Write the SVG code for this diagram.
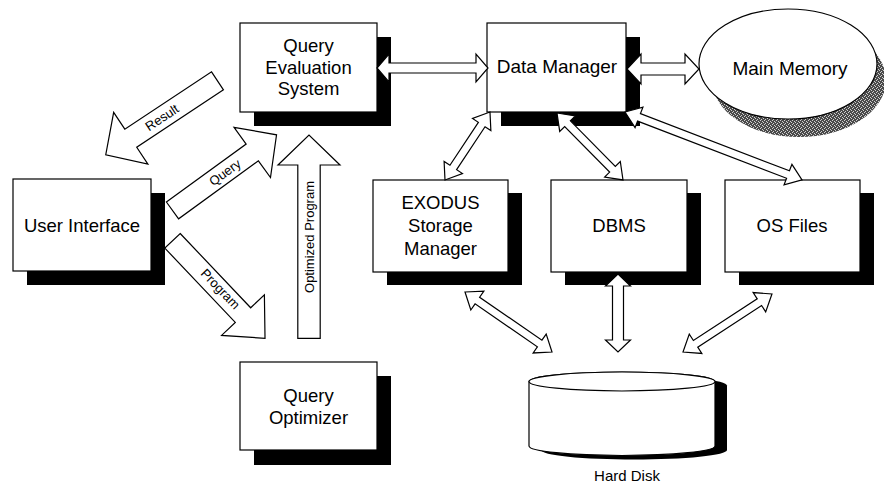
<svg xmlns="http://www.w3.org/2000/svg" width="884" height="486" viewBox="0 0 884 486">
  <defs>
    <!-- dithered grey used for the ellipse drop shadow -->
    <pattern id="stipple" width="4" height="4" patternUnits="userSpaceOnUse">
      <rect width="4" height="4" fill="#4a4a4a"/>
      <rect x="0" y="0" width="1" height="1" fill="#d0d0d0"/>
      <rect x="2" y="1" width="1" height="1" fill="#d0d0d0"/>
      <rect x="1" y="3" width="1" height="1" fill="#d0d0d0"/>
      <rect x="3" y="2" width="1" height="1" fill="#d0d0d0"/>
    </pattern>
  </defs>
  <style>
    .box { fill: #ffffff; stroke: #000000; stroke-width: 1.2; }
    .shadow { fill: #000000; stroke: none; }
    .arrow { fill: #ffffff; stroke: #000000; stroke-width: 1.2; stroke-linejoin: miter; }
    .label { font-family: "Liberation Sans", Arial, sans-serif; font-size: 18.5px; fill: #000000; text-anchor: middle; }
    .big { font-size: 19px; }
    .small { font-family: "Liberation Sans", Arial, sans-serif; font-size: 13px; fill: #000000; text-anchor: middle; dominant-baseline: central; }
    .caption { font-family: "Liberation Sans", Arial, sans-serif; font-size: 15px; fill: #000000; text-anchor: middle; }
  </style>
  <rect width="884" height="486" fill="#ffffff"/>

  <!-- Query Evaluation System -->
  <g id="query-evaluation-system">
    <rect class="shadow" x="254" y="37" width="137" height="89"/>
    <rect class="box" x="240" y="23" width="137" height="89"/>
    <text class="label" x="308.5" y="52">Query</text>
    <text class="label" x="308.5" y="73.5">Evaluation</text>
    <text class="label" x="308.5" y="95">System</text>
  </g>

  <!-- Data Manager -->
  <g id="data-manager">
    <rect class="shadow" x="501" y="37" width="139" height="89"/>
    <rect class="box" x="487" y="23" width="139" height="89"/>
    <text class="label big" x="557" y="73">Data Manager</text>
  </g>

  <!-- Main Memory -->
  <g id="main-memory">
    <ellipse cx="799" cy="80" rx="87" ry="57" fill="url(#stipple)"/>
    <ellipse class="box" cx="788" cy="64" rx="89" ry="55"/>
    <text class="label big" x="790" y="75">Main Memory</text>
  </g>

  <!-- User Interface -->
  <g id="user-interface">
    <rect class="shadow" x="27" y="193" width="138" height="92"/>
    <rect class="box" x="13" y="179" width="138" height="92"/>
    <text class="label" x="82" y="231.5">User Interface</text>
  </g>

  <!-- Query Optimizer -->
  <g id="query-optimizer">
    <rect class="shadow" x="254" y="376" width="137" height="89"/>
    <rect class="box" x="240" y="362" width="137" height="88"/>
    <text class="label" x="308.5" y="402">Query</text>
    <text class="label" x="308.5" y="424">Optimizer</text>
  </g>

  <!-- EXODUS Storage Manager -->
  <g id="exodus-storage-manager">
    <rect class="shadow" x="387" y="193" width="135" height="92"/>
    <rect class="box" x="373" y="180" width="135" height="92"/>
    <text class="label" x="440.5" y="208.5">EXODUS</text>
    <text class="label" x="440.5" y="232">Storage</text>
    <text class="label" x="440.5" y="255">Manager</text>
  </g>

  <!-- DBMS -->
  <g id="dbms">
    <rect class="shadow" x="565" y="193" width="136" height="92"/>
    <rect class="box" x="551" y="180" width="136" height="92"/>
    <text class="label" x="619" y="232">DBMS</text>
  </g>

  <!-- OS Files -->
  <g id="os-files">
    <rect class="shadow" x="739" y="193" width="135" height="92"/>
    <rect class="box" x="725" y="180" width="135" height="92"/>
    <text class="label" x="792" y="232">OS Files</text>
  </g>

  <!-- Hard Disk cylinder -->
  <g id="hard-disk">
    <path class="shadow" transform="translate(12,4)" d="M529,381.5 V446 A93,9.5 0 0 0 715,446 V381.5 A93,9.5 0 0 0 529,381.5 Z"/>
    <path class="box" d="M529,381.5 V446 A93,9.5 0 0 0 715,446 V381.5 A93,9.5 0 0 0 529,381.5 Z"/>
    <ellipse class="box" cx="622" cy="381.5" rx="93" ry="9.5"/>
    <text class="caption" x="627" y="481">Hard Disk</text>
  </g>

  <!-- connectors: hollow block arrows -->
  <g id="connectors">
    <!-- Result: evaluation system back to the user interface -->
    <polygon class="arrow" transform="translate(217.5,80.8) rotate(146.5)" points="0,-10.8 104,-10.8 104,-31 134,0 104,31 104,10.8 0,10.8"/>
    <text class="small" transform="translate(162,117.5) rotate(-33.5)">Result</text>

    <!-- Query: user interface to evaluation system -->
    <polygon class="arrow" transform="translate(172.5,210.4) rotate(-36)" points="0,-10.4 98.6,-10.4 98.6,-31 128.6,0 98.6,31 98.6,10.4 0,10.4"/>
    <text class="small" transform="translate(225,172.5) rotate(-36)">Query</text>

    <!-- Program: user interface towards the optimizer -->
    <polygon class="arrow" transform="translate(172.5,240.8) rotate(46.5)" points="0,-10.6 102.4,-10.6 102.4,-29.5 134.4,0 102.4,29.5 102.4,10.6 0,10.6"/>
    <text class="small" transform="translate(220.5,289) rotate(46.5)">Program</text>

    <!-- Optimized Program: optimizer up to evaluation system -->
    <polygon class="arrow" transform="translate(309,338.3) rotate(-90)" points="0,-11.2 173.3,-11.2 173.3,-31 203.3,0 173.3,31 173.3,11.2 0,11.2"/>
    <text class="small" transform="translate(309.5,237) rotate(-90)">Optimized Program</text>

    <!-- evaluation system <-> data manager -->
    <polygon class="arrow" points="377,68 389,54 389,63 476,63 476,54 488,68 476,82 476,73 389,73 389,82"/>

    <!-- data manager <-> main memory -->
    <polygon class="arrow" points="627,69 641,54 641,63 685,63 685,54 699,69 685,84 685,75 641,75 641,84"/>

    <!-- data manager <-> storage back ends -->
    <polygon class="arrow" transform="translate(445,180) rotate(-56.5)" points="0,0 15,-11 15,-4 66.5,-4 66.5,-11 81.5,0 66.5,11 66.5,4 15,4 15,11"/>
    <polygon class="arrow" transform="translate(557,113) rotate(45.4)" points="0,0 15,-11 15,-4 79,-4 79,-11 94,0 79,11 79,4 15,4 15,11"/>
    <polygon class="arrow" transform="translate(625,112) rotate(21)" points="0,0 15,-11 15,-4 174.6,-4 174.6,-11 189.6,0 174.6,11 174.6,4 15,4 15,11"/>

    <!-- storage back ends <-> hard disk -->
    <polygon class="arrow" transform="translate(465,292) rotate(34.6)" points="0,0 15,-11.5 15,-4 90.7,-4 90.7,-11.5 105.7,0 90.7,11.5 90.7,4 15,4 15,11.5"/>
    <polygon class="arrow" transform="translate(618,274) rotate(90)" points="0,0 12,-12.5 12,-5.5 66,-5.5 66,-12.5 78,0 66,12.5 66,5.5 12,5.5 12,12.5"/>
    <polygon class="arrow" transform="translate(683,352) rotate(-33.1)" points="0,0 15,-11.5 15,-4 91.2,-4 91.2,-11.5 106.2,0 91.2,11.5 91.2,4 15,4 15,11.5"/>
  </g>
</svg>
